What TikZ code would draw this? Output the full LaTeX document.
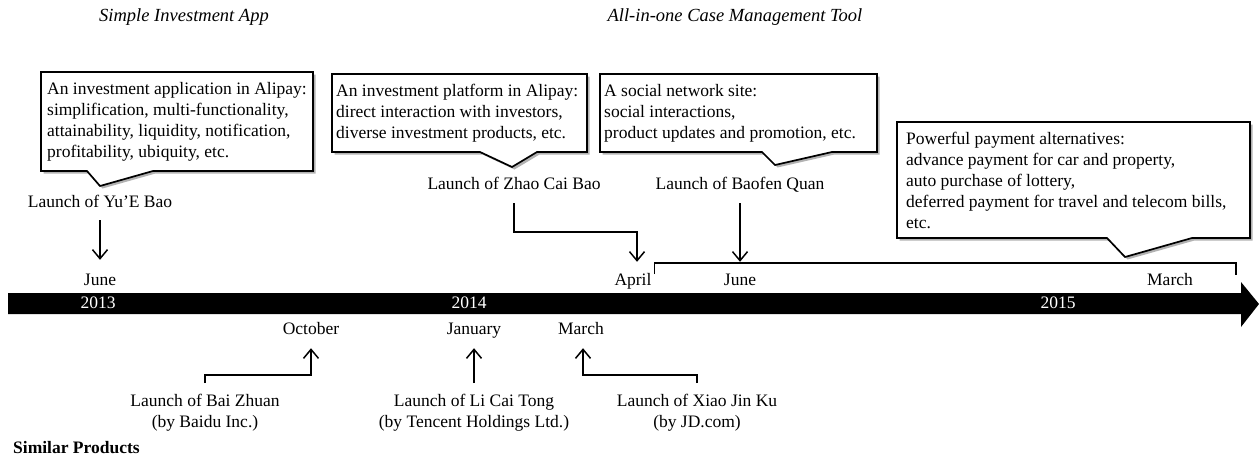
\documentclass[tikz,border=0pt]{standalone}
\usepackage{fontspec}
\setmainfont{Liberation Serif}
\usetikzlibrary{arrows.meta,shadows}
\begin{document}
\begin{tikzpicture}[x=1pt,y=-1pt,
  every node/.style={font=\fontsize{17.5}{21}\selectfont, inner sep=0pt},
  lbl/.style={text height=12pt, text depth=4pt},
  yearlbl/.style={text=white, text height=12pt, text depth=4pt},
  title/.style={font=\fontsize{18.5}{21}\selectfont\itshape},
  callout/.style={draw=black, line width=1.7pt, fill=white, line join=miter,
    drop shadow={shadow xshift=2.5pt, shadow yshift=-2.5pt, opacity=0.3, fill=black}},
  boxtext/.style={align=left, anchor=west},
  undertext/.style={align=center, anchor=north},
  conn/.style={line width=1.5pt, -{Straight Barb[length=9pt,width=15pt]}},
  bracketline/.style={line width=1.5pt}]
\useasboundingbox (0,0) rectangle (1259,461);

% titles
\node[title] (t1) at (184,17) {Simple Investment App};
\node[title] (t2) at (735,17) {All-in-one Case Management Tool};

% callouts
\draw[callout] (41,72) -- (313,72) -- (313,171) -- (153,171) -- (100,186) -- (87,171) -- (41,171) -- cycle;
\node[boxtext] (b1) at (47,121.5) {An investment application in Alipay:\\simplification, multi-functionality,\\attainability, liquidity, notification,\\profitability, ubiquity, etc.};

\draw[callout] (332,74) -- (587,74) -- (587,152) -- (537,152) -- (512,167) -- (480,152) -- (332,152) -- cycle;
\node[boxtext] (b2) at (336,113) {An investment platform in Alipay:\\direct interaction with investors,\\diverse investment products, etc.};

\draw[callout] (600,74) -- (877,74) -- (877,152) -- (832,152) -- (775,165) -- (762,152) -- (600,152) -- cycle;
\node[boxtext] (b3) at (604,113) {A social network site:\\social interactions,\\product updates and promotion, etc.};

\draw[callout] (897,122) -- (1250,122) -- (1250,238) -- (1192,238) -- (1125,257) -- (1107,238) -- (897,238) -- cycle;
\node[boxtext] (b4) at (906,180) {Powerful payment alternatives:\\advance payment for car and property,\\auto purchase of lottery,\\deferred payment for travel and telecom bills,\\etc.};

% timeline bar
\fill[black] (8,293) -- (1241,293) -- (1241,282) -- (1259,304) -- (1241,327) -- (1241,314) -- (8,314) -- cycle;
\node[yearlbl] (y13) at (98,304) {2013};
\node[yearlbl] (y14) at (469,304) {2014};
\node[yearlbl] (y15) at (1058,304) {2015};

% months
\node[lbl] (jun13) at (100,281) {June};
\node[lbl] (apr) at (633,281) {April};
\node[lbl] (jun14) at (740,281) {June};
\node[lbl] (mar15) at (1170,281) {March};
\node[lbl] (oct) at (311,330) {October};
\node[lbl] (jan) at (474,330) {January};
\node[lbl] (mar14) at (581,330) {March};

% launch labels above
\node[lbl] (yue) at (100,203) {Launch of Yu'E Bao};
\node[lbl] (zhao) at (514,185) {Launch of Zhao Cai Bao};
\node[lbl] (baofen) at (740,185) {Launch of Baofen Quan};

% launch labels below
\node[undertext] (bai) at (205,394) {Launch of Bai Zhuan\\(by Baidu Inc.)};
\node[undertext] (li) at (474,394) {Launch of Li Cai Tong\\(by Tencent Holdings Ltd.)};
\node[undertext] (xiao) at (697,394) {Launch of Xiao Jin Ku\\(by JD.com)};

\node[anchor=west, font=\fontsize{17.5}{21}\selectfont\bfseries] (sim) at (13,448) {Similar Products};

% connectors
\draw[conn] ([yshift=-9pt]yue.south) -- ([yshift=13pt]jun13.north);
\draw[conn] ([yshift=-10pt]zhao.south) -- ++(0,29) -| ([xshift=4pt,yshift=11pt]apr.north);
\draw[conn] ([yshift=-10pt]baofen.south) -- ([yshift=11pt]jun14.north);
\coordinate (brR) at (1236,275);
\draw[bracketline] ([xshift=3pt,yshift=7pt]apr.east) -- ++(0,-11) -| (brR);

\draw[conn] ([yshift=11pt]bai.north) -- ++(0,-8) -| ([yshift=-10pt]oct.south);
\draw[conn] ([yshift=11pt]li.north) -- ([yshift=-10pt]jan.south);
\draw[conn] ([yshift=11pt]xiao.north) -- ++(0,-8) -| ([xshift=2pt,yshift=-10pt]mar14.south);
\end{tikzpicture}
\end{document}
